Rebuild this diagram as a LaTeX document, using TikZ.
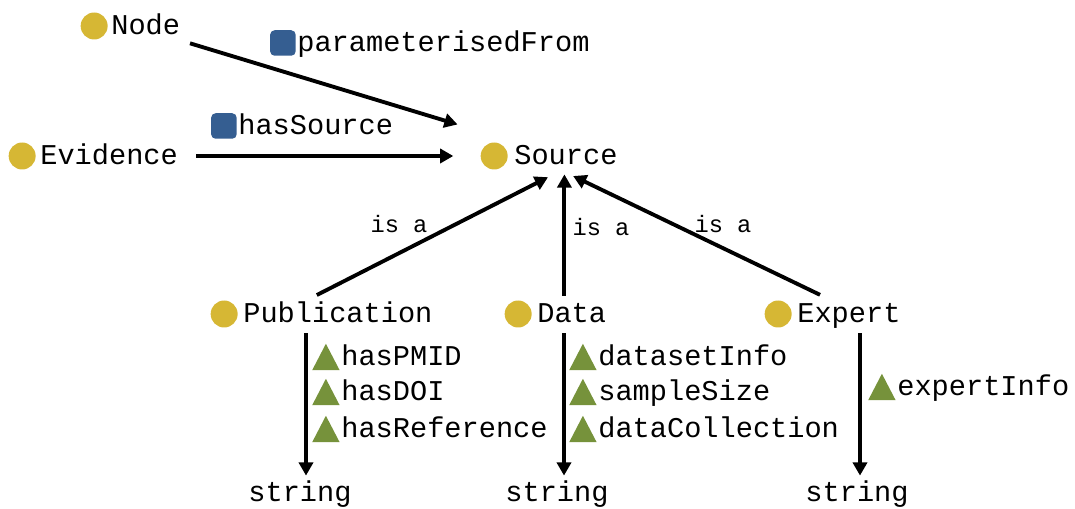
\documentclass[tikz,border=0pt]{standalone}
\usepackage{fontspec}
\setmonofont{Liberation Mono}
\usepackage{tikz}
\usetikzlibrary{positioning,arrows.meta}
\definecolor{classyellow}{RGB}{214,183,52}
\definecolor{propblue}{RGB}{53,94,145}
\definecolor{attrgreen}{RGB}{118,146,59}

\begin{document}
\begin{tikzpicture}[x=0.02cm,y=-0.02cm,>={Triangle[length=7.5pt,width=8pt]}]
  \tikzstyle{term}=[font=\ttfamily\fontsize{16.3}{19}\selectfont, inner sep=0pt,
text height=13pt, text depth=3pt]
  \tikzstyle{cls}=[term, anchor=west]
  \tikzstyle{dot}=[circle, fill=classyellow, minimum size=0.54cm, inner sep=0pt]
  \tikzstyle{box}=[rounded corners=2.5pt, fill=propblue, minimum size=0.51cm, inner sep=0pt]
  \tikzstyle{tri}=[minimum width=0.55cm, minimum height=0.53cm, inner sep=0pt,
path picture={\fill[attrgreen] (path picture bounding box.south west) --
(path picture bounding box.south east) -- (path picture bounding box.north) -- cycle;}]
  \tikzstyle{isa}=[font=\ttfamily\fontsize{13.5}{16}\selectfont, inner sep=0pt]
  \tikzstyle{edge}=[->, line width=2.2pt]
  \useasboundingbox (0,0) rectangle (1075,509);

  % classes
  \node[cls] (node) at (111,26) {Node};
  \node[dot, left=0.06cm of node] (node-i) {};
  \node[cls] (evid) at (40,156) {Evidence};
  \node[dot, left=0.08cm of evid] (evid-i) {};
  \node[cls] (src) at (514,156) {Source};
  \node[dot, left=0.12cm of src] (src-i) {};
  \node[cls] (pub) at (243,314) {Publication};
  \node[dot, left=0.1cm of pub] (pub-i) {};
  \node[cls] (dat) at (537,314) {Data};
  \node[dot, left=0.1cm of dat] (dat-i) {};
  \node[cls] (exp) at (797,314) {Expert};
  \node[dot, left=0.1cm of exp] (exp-i) {};

  % object properties
  \node[cls] (pf) at (297,43) {parameterisedFrom};
  \node[box, left=0.02cm of pf] (pf-i) {};
  \node[cls] (hs) at (238,126) {hasSource};
  \node[box, left=0.02cm of hs] (hs-i) {};

  % data properties
  \node[cls] (pmid) at (341,357) {hasPMID};
  \node[tri, left=0.02cm of pmid] (pmid-i) {};
  \node[cls] (doi) at (341,392) {hasDOI};
  \node[tri, left=0.02cm of doi] (doi-i) {};
  \node[cls] (ref) at (341,429) {hasReference};
  \node[tri, left=0.02cm of ref] (ref-i) {};
  \node[cls] (dsi) at (598,357) {datasetInfo};
  \node[tri, left=0.02cm of dsi] (dsi-i) {};
  \node[cls] (ssz) at (598,392) {sampleSize};
  \node[tri, left=0.02cm of ssz] (ssz-i) {};
  \node[cls] (dcol) at (598,429) {dataCollection};
  \node[tri, left=0.02cm of dcol] (dcol-i) {};
  \node[cls] (exi) at (897,387) {expertInfo};
  \node[tri, left=0.02cm of exi] (exi-i) {};

  % datatypes
  \node[term] (str1) at (300,493) {string};
  \node[term] (str2) at (557,493) {string};
  \node[term] (str3) at (857,493) {string};

  \node[isa] (isa1) at (399,224) {is a};
  \node[isa] (isa2) at (601,227) {is a};
  \node[isa] (isa3) at (723,224) {is a};

  \draw[edge, shorten <=0.2cm, shorten >=1.18cm] (node.south east) -- (src.north west);
  \draw[edge, shorten <=0.36cm, shorten >=0.54cm] (evid) -- (src-i);
  \draw[edge, shorten <=0.2cm, shorten >=0.3cm] ([xshift=-0.6cm]pub.north) -- ([xshift=-0.09cm]src.south);
  \draw[edge, shorten <=0.08cm, shorten >=0.08cm] ([xshift=-0.03cm]src.south |- dat.north) -- ([xshift=-0.03cm]src.south);
  \draw[edge, shorten <=0.22cm, shorten >=0.26cm] ([xshift=-0.38cm]exp.north) -- ([xshift=-0.09cm]src.south);
  \draw[edge, shorten <=0.1cm, shorten >=0.06cm] ([xshift=0.12cm]str1.north |- pub.south) -- ([xshift=0.12cm]str1.north);
  \draw[edge, shorten <=0.1cm, shorten >=0.06cm] ([xshift=0.14cm]str2.north |- dat.south) -- ([xshift=0.14cm]str2.north);
  \draw[edge, shorten <=0.1cm, shorten >=0.06cm] ([xshift=0.06cm]str3.north |- exp.south) -- ([xshift=0.06cm]str3.north);
\end{tikzpicture}
\end{document}
